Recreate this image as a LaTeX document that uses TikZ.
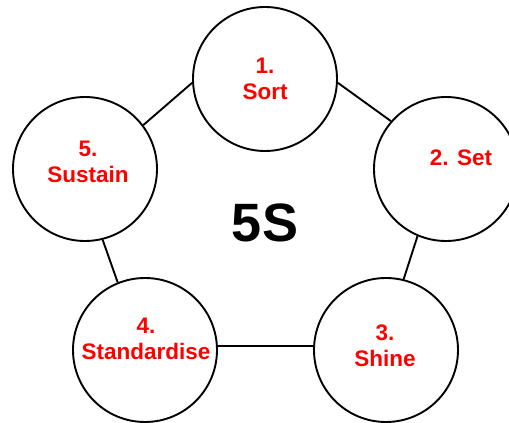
\documentclass[tikz,border=0pt]{standalone}
\usepackage{fontspec}
\setmainfont{Liberation Sans}
\usepackage{tikz}
\usetikzlibrary{calc}
\usepackage{xcolor}
\definecolor{stepred}{HTML}{FF0000}
\tikzset{
  phase/.style={
    circle,
    draw=black,
    fill=white,
    line width=1.9pt,
    inner sep=0pt,
    minimum size=144pt
  },
  phasetext/.style={
    text=stepred,
    align=center,
    inner sep=0pt,
    font=\bfseries\fontsize{22.5}{26}\selectfont
  },
  link/.style={
    line width=1.9pt,
    draw=black
  }
}

\begin{document}
\begin{tikzpicture}[x=1pt,y=1pt]
\clip (0,0) rectangle (509,423);
\useasboundingbox (0,0) rectangle (509,423);
% the five circles
\node[phase] (sort) at (265,344) {};
\node[phase] (set) at (446,254) {};
\node[phase] (shine) at (386,73) {};
\node[phase] (std) at (145,73) {};
\node[phase] (sustain) at (85,254) {};
% their texts
\node[phasetext] (sorttext) at (sort) {1.\\Sort};
\node[phasetext] (settext) at ($(set)+(15,11)$) {2. Set};
\node[phasetext] (shinetext) at ($(shine)+(-1,4)$) {3.\\Shine};
\node[phasetext] (stdtext) at ($(std)+(1,11)$) {4.\\Standardise};
\node[phasetext] (sustaintext) at ($(sustain)+(3,7)$) {5.\\Sustain};
\node[font=\bfseries\fontsize{54}{60}\selectfont] (title) at (265,200) {5S};
% links round the ring
\draw[link] (sort.183) -- (sustain.37);
\draw[link] (sort.357) -- (set.139);
\draw[link] (set.247) -- (shine.76);
\draw[link] (sustain.284) -- (std.112);
\draw[link] (std.3) -- (shine.177);
\end{tikzpicture}
\end{document}
